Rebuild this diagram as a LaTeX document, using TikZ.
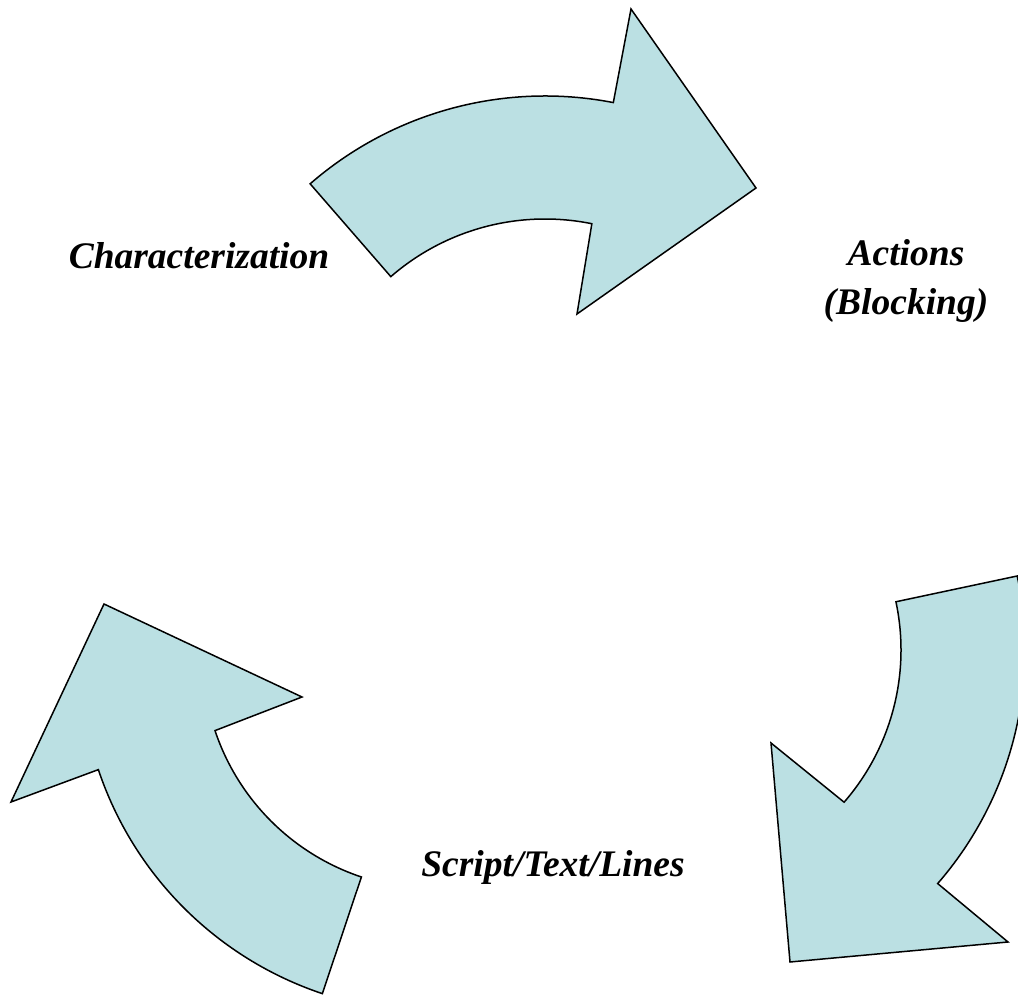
\documentclass[tikz,border=0pt]{standalone}
\usepackage{fontspec}
\setmainfont{Liberation Serif}
\usetikzlibrary{calc}
\definecolor{arrowfill}{RGB}{187,224,227}
\tikzset{
  cyclearrow/.style={draw=black, line width=1.5pt, fill=arrowfill, line join=miter},
  lbl/.style={font=\fontsize{37.5}{49}\selectfont\bfseries\itshape, align=center, inner sep=0pt}
}
\begin{document}
\begin{tikzpicture}[x=1pt,y=1pt]
\clip (0,0) rectangle (1018,994);
% centres of the three arcs
\coordinate (c1) at (545,540);
\coordinate (c2) at (669,344);
\coordinate (c3) at (435,337);
% top arrow
\draw[cyclearrow] ($(c1)+(131:358pt)$) arc[start angle=131, end angle=79, radius=358pt]
  -- (631,985) -- (756,806) -- (577,680)
  -- ($(c1)+(78.5:235pt)$) arc[start angle=78.5, end angle=131, radius=235pt] -- cycle;
% right arrow
\draw[cyclearrow] ($(c2)+(12:356pt)$) arc[start angle=12, end angle=-41, radius=356pt]
  -- (1008,52) -- (790,32) -- (771,251)
  -- ($(c2)+(-41:232pt)$) arc[start angle=-41, end angle=12, radius=232pt] -- cycle;
% left arrow
\draw[cyclearrow] ($(c3)+(-108.5:355pt)$) arc[start angle=-108.5, end angle=-161.5, radius=355pt]
  -- (11,192) -- (104,390) -- (302,297)
  -- ($(c3)+(-161.5:232pt)$) arc[start angle=-161.5, end angle=-108.5, radius=232pt] -- cycle;
% labels
\node[lbl] (char) at (199,738) {Characterization};
\node[lbl] (act) at (906,713) {Actions\\(Blocking)};
\node[lbl] (script) at (553,127) {Script/Text/Lines};
\end{tikzpicture}
\end{document}
